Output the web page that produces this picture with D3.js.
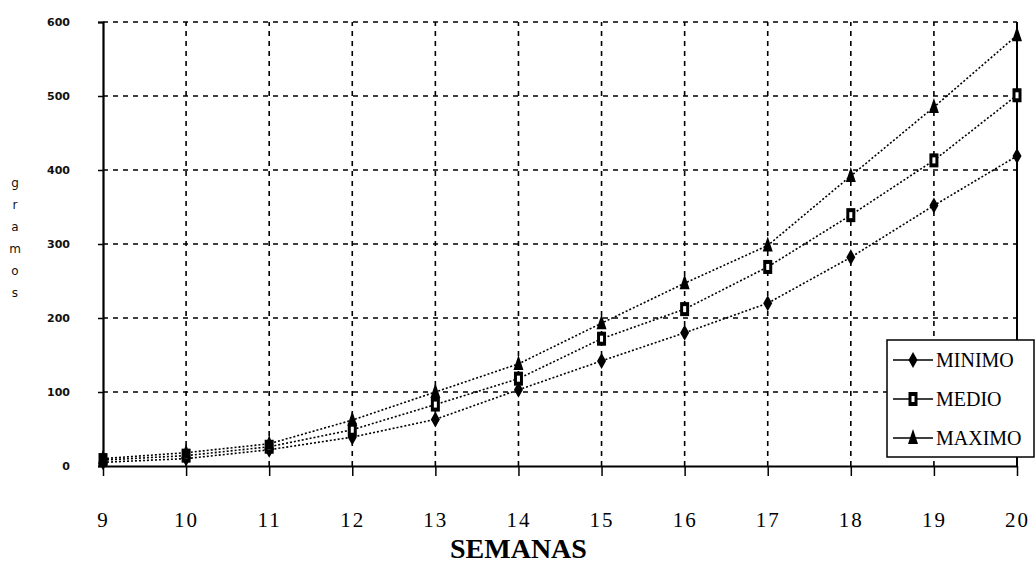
<!DOCTYPE html>
<html>
<head>
<meta charset="UTF-8">
<title>gramos por semanas</title>
<style>
  body { margin: 0; background: #fff; }
  svg { display: block; }
</style>
</head>
<body>
<div id="chart"></div>
<script src="https://cdn.jsdelivr.net/npm/d3@7"></script>
<script>
// ---- data ----
const semanas = [9, 10, 11, 12, 13, 14, 15, 16, 17, 18, 19, 20];
const minimo  = [5, 10, 22, 39, 63, 103, 142, 180, 220, 282, 352, 419];
const medio   = [8, 14, 26, 49, 83, 118, 172, 212, 269, 339, 413, 501];
const maximo  = [10, 18, 30, 62, 100, 138, 193, 247, 298, 392, 485, 582];
const yTicks  = [0, 100, 200, 300, 400, 500, 600];
const seriesNames = ["MINIMO", "MEDIO", "MAXIMO"];

const series = [
  { name: seriesNames[0], values: minimo, mark: "diamond" },
  { name: seriesNames[1], values: medio,  mark: "square" },
  { name: seriesNames[2], values: maximo, mark: "triangle" }
];

const W = 1036, H = 563;
const m = { left: 103, right: 19, top: 22, bottom: 97 };

const svg = d3.select("#chart").append("svg")
  .attr("width", W).attr("height", H);

const x = d3.scaleLinear().domain([9, 20]).range([m.left, W - m.right]);
const y = d3.scaleLinear().domain([0, 600]).range([H - m.bottom, m.top]);

// grid
const grid = svg.append("g").attr("stroke", "#000").attr("stroke-width", 1.6)
  .attr("stroke-dasharray", "5,5");
grid.selectAll("line.h").data(yTicks.filter(d => d > 0)).enter().append("line")
  .attr("class", "h")
  .attr("x1", x(9)).attr("x2", x(20))
  .attr("y1", d => y(d)).attr("y2", d => y(d));
grid.selectAll("line.v").data(semanas.filter(d => d > 9 && d < 20)).enter().append("line")
  .attr("class", "v")
  .attr("y1", y(0)).attr("y2", y(600))
  .attr("x1", d => x(d)).attr("x2", d => x(d));

// right border
svg.append("line").attr("x1", x(20)).attr("x2", x(20))
  .attr("y1", y(600)).attr("y2", y(0))
  .attr("stroke", "#000").attr("stroke-width", 2);

// axes
const yAxis = svg.append("g")
  .attr("transform", `translate(${m.left},0)`)
  .call(d3.axisLeft(y).tickValues(yTicks).tickSize(5).tickPadding(28));
yAxis.select(".domain").attr("stroke-width", 2.2);
yAxis.selectAll(".tick line").attr("stroke-width", 1.5);
yAxis.selectAll("text")
  .style("font-family", "'DejaVu Sans', sans-serif")
  .style("font-size", "11px").style("font-weight", "bold").attr("fill", "#111");

const xAxis = svg.append("g")
  .attr("transform", `translate(0,${y(0)})`)
  .call(d3.axisBottom(x).tickValues(semanas).tickFormat(d3.format("d")).tickSize(10).tickPadding(46)
    .tickSizeOuter(0));
xAxis.select(".domain").attr("stroke-width", 2);
xAxis.selectAll(".tick line").attr("stroke-width", 1.5);
xAxis.selectAll(".tick text")
  .style("font-family", "'Liberation Serif', serif")
  .style("font-size", "21px").style("letter-spacing", "2px")
  .attr("fill", "#000").attr("dy", "0").attr("y", 61);

// axis titles
svg.append("text")
  .attr("x", x(14)).attr("y", 558)
  .attr("text-anchor", "middle")
  .style("font-family", "'Liberation Serif', serif")
  .style("font-weight", "bold").style("font-size", "28px")
  .text("SEMANAS");

const letters = "gramos".split("");
svg.append("g").selectAll("text").data(letters).enter().append("text")
  .attr("x", 15).attr("y", (d, i) => 187 + i * 22)
  .attr("text-anchor", "middle")
  .style("font-family", "'DejaVu Sans', sans-serif")
  .style("font-size", "12px").attr("fill", "#111")
  .text(d => d);

// lines
const line = d3.line().x((d, i) => x(semanas[i])).y(d => y(d));
svg.append("g").selectAll("path").data(series).enter().append("path")
  .attr("d", d => line(d.values))
  .attr("fill", "none").attr("stroke", "#000")
  .attr("stroke-width", 1.6).attr("stroke-dasharray", "2,2");

// markers
function drawMark(g, kind) {
  if (kind === "diamond") {
    g.append("path").attr("d", "M0,-8L4.5,0L0,8L-4.5,0Z").attr("fill", "#000");
  } else if (kind === "square") {
    g.append("rect").attr("x", -4.5).attr("y", -7).attr("width", 9).attr("height", 14).attr("fill", "#000");
    g.append("rect").attr("x", -1.5).attr("y", -3).attr("width", 3).attr("height", 6).attr("fill", "#fff");
  } else {
    g.append("path").attr("d", "M0,-9L5,6L-5,6Z").attr("fill", "#000");
  }
}
series.forEach(s => {
  const mg = svg.append("g");
  s.values.forEach((v, i) => {
    const g = mg.append("g").attr("transform", `translate(${x(semanas[i])},${y(v)})`);
    drawMark(g, s.mark);
  });
});

// legend
const lg = svg.append("g").attr("transform", "translate(887,340)");
lg.append("rect").attr("width", 147).attr("height", 117)
  .attr("fill", "#fff").attr("stroke", "#000").attr("stroke-width", 1.5);
series.forEach((s, i) => {
  const ry = 20 + i * 39;
  lg.append("line").attr("x1", 6).attr("x2", 46).attr("y1", ry).attr("y2", ry)
    .attr("stroke", "#000").attr("stroke-width", 1.3);
  const g = lg.append("g").attr("transform", `translate(26,${ry})`);
  drawMark(g, s.mark);
  lg.append("text").attr("x", 49).attr("y", ry + 7)
    .style("font-family", "'Liberation Serif', serif")
    .style("font-size", "20px").attr("fill", "#000")
    .text(s.name);
});
</script>
</body>
</html>
